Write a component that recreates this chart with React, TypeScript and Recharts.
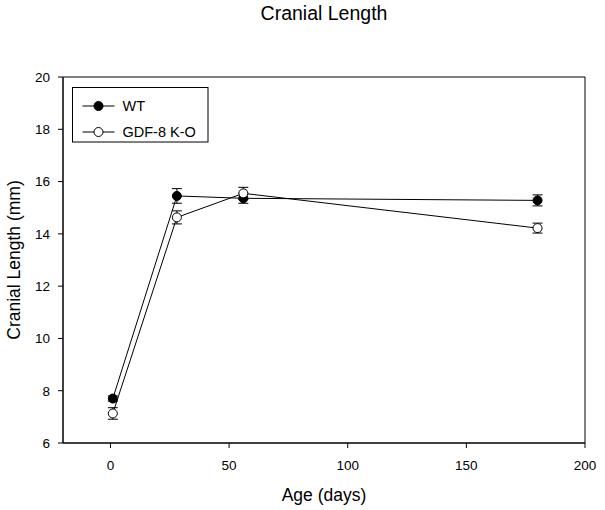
import React from 'react';
import {
  LineChart,
  Line,
  XAxis,
  YAxis,
  ErrorBar,
  ReferenceArea,
  Legend,
} from 'recharts';

// ---- data ----
const ages = [1, 28, 56, 180];
const wtMean = [7.7, 15.45, 15.36, 15.28];
const wtSE = [0.1, 0.28, 0.19, 0.21];
const koMean = [7.13, 14.63, 15.55, 14.22];
const koSE = [0.22, 0.25, 0.23, 0.19];
const xTicks = [0, 50, 100, 150, 200];
const yTicks = [6, 8, 10, 12, 14, 16, 18, 20];
const seriesNames = ['WT', 'GDF-8 K-O'];

const wtData = ages.map((a, i) => ({ age: a, value: wtMean[i], err: wtSE[i] }));
const koData = ages.map((a, i) => ({ age: a, value: koMean[i], err: koSE[i] }));

const FONT = '"Liberation Sans", Arial, Helvetica, sans-serif';

const renderLegend = () => (
  <svg width={137} height={56} style={{ display: 'block', fontFamily: FONT }}>
    <rect x={0.5} y={0.5} width={135.5} height={54.5} fill="#fff" stroke="#000" strokeWidth={1} />
    {seriesNames.map((name, i) => {
      const cy = 19 + i * 26;
      return (
        <g key={name}>
          <line x1={10.5} x2={42.5} y1={cy} y2={cy} stroke="#000" strokeWidth={1} />
          <circle cx={26.5} cy={cy} r={4.5} fill={i === 0 ? '#000' : '#fff'} stroke="#000" strokeWidth={1} />
          <text x={50.5} y={cy} dominantBaseline="central" fontSize={14.5} fill="#000">
            {name}
          </text>
        </g>
      );
    })}
  </svg>
);

export default function App() {
  return (
    <div
      style={{
        position: 'absolute',
        left: 0,
        top: 0,
        width: 605,
        height: 510,
        background: '#fff',
        fontFamily: FONT,
      }}
    >
      <div
        style={{
          position: 'absolute',
          left: 0,
          top: 4,
          width: 648,
          textAlign: 'center',
          fontSize: 19.5,
          lineHeight: 1,
          color: '#000',
        }}
      >
        Cranial Length
      </div>
      <LineChart
        width={605}
        height={510}
        margin={{ top: 77, right: 20, left: 0, bottom: 0 }}
        style={{ fontFamily: FONT }}
      >
        <XAxis
          type="number"
          dataKey="age"
          domain={[-20, 200]}
          ticks={xTicks}
          allowDataOverflow
          height={67}
          tickSize={5}
          tickMargin={12}
          stroke="#000"
          tick={{ fill: '#000', fontSize: 13.5 }}
          label={{
            content: (props: any) => {
              const vb = props.viewBox || { x: 63, width: 522 };
              return (
                <text x={vb.x + vb.width / 2} y={500.5} textAnchor="middle" fontSize={17.5} fill="#000">
                  Age (days)
                </text>
              );
            },
          }}
        />
        <YAxis
          type="number"
          domain={[6, 20]}
          ticks={yTicks}
          allowDataOverflow
          width={63}
          tickSize={5}
          tickMargin={8}
          stroke="#000"
          tick={{ fill: '#000', fontSize: 13.5 }}
          label={{
            content: (props: any) => {
              const vb = props.viewBox || { y: 77, height: 366 };
              const cy = vb.y + vb.height / 2;
              return (
                <text
                  x={14}
                  y={cy}
                  transform={`rotate(-90, 14, ${cy})`}
                  textAnchor="middle"
                  dominantBaseline="central"
                  fontSize={17.5}
                  fill="#000"
                >
                  Cranial Length (mm)
                </text>
              );
            },
          }}
        />
        <ReferenceArea
          x1={-20}
          x2={200}
          y1={6}
          y2={20}
          fill="none"
          fillOpacity={0}
          stroke="#000"
          strokeWidth={1}
          ifOverflow="visible"
        />
        <Legend
          layout="horizontal"
          verticalAlign="middle"
          align="center"
          content={renderLegend}
          wrapperStyle={{ left: 72, top: 87, width: 137, height: 56 }}
        />
        <Line
          data={wtData}
          dataKey="value"
          name={seriesNames[0]}
          stroke="#000"
          strokeWidth={1}
          isAnimationActive={false}
          dot={{ r: 4.5, fill: '#000', stroke: '#000', strokeWidth: 1 }}
          activeDot={false}
        >
          <ErrorBar dataKey="err" direction="y" width={5} stroke="#000" strokeWidth={1} />
        </Line>
        <Line
          data={koData}
          dataKey="value"
          name={seriesNames[1]}
          stroke="#000"
          strokeWidth={1}
          isAnimationActive={false}
          dot={{ r: 4.5, fill: '#fff', stroke: '#000', strokeWidth: 1 }}
          activeDot={false}
        >
          <ErrorBar dataKey="err" direction="y" width={5} stroke="#000" strokeWidth={1} />
        </Line>
      </LineChart>
    </div>
  );
}
